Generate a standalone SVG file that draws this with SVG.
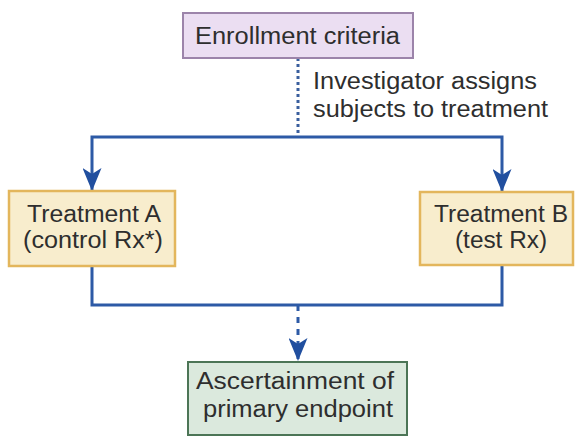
<svg xmlns="http://www.w3.org/2000/svg" width="581" height="438" viewBox="0 0 581 438">
  <style>
    .lbl { font-family: "Liberation Sans", Arial, sans-serif; font-size: 23.5px; fill: #2e2e2e; }
    .mid { text-anchor: middle; }
    .wire { fill: none; stroke: #2d5aa6; stroke-width: 3; }
    .dots { fill: none; stroke: #3a5f9e; stroke-width: 3; stroke-dasharray: 3 3; }
    .dash { fill: none; stroke: #2d5aa6; stroke-width: 3; stroke-dasharray: 6 6; }
    .purple { fill: #ebdef2; stroke: #9c84aa; stroke-width: 2; }
    .yellow { fill: #f8edcd; stroke: #e3b65c; stroke-width: 2.5; }
    .green { fill: #dbe9dd; stroke: #4c7556; stroke-width: 2; }
  </style>
  <defs>
    <marker id="arrow" markerUnits="userSpaceOnUse" viewBox="0 0 23 19" refX="23" refY="9.5" markerWidth="23" markerHeight="19" orient="auto">
      <path d="M0,0 L23,9.5 L0,19 L6,9.5 Z" fill="#214f9f"/>
    </marker>
  </defs>

  <rect width="581" height="438" fill="#ffffff"/>

  <!-- connectors -->
  <g id="connectors">
    <path class="dots" d="M298,58 V137"/>
    <path class="wire" d="M298,137 H92 V191" marker-end="url(#arrow)"/>
    <path class="wire" d="M298,137 H502 V192" marker-end="url(#arrow)"/>
    <path class="wire" d="M92,266 V305 H502 V265"/>
    <path class="dash" d="M298,305 V361" marker-end="url(#arrow)"/>
    <text class="lbl" x="313" y="89" textLength="224" lengthAdjust="spacingAndGlyphs">Investigator assigns</text>
    <text class="lbl" x="313" y="117" textLength="235" lengthAdjust="spacingAndGlyphs">subjects to treatment</text>
  </g>

  <!-- nodes -->
  <g id="enrollment">
    <rect class="purple" x="183" y="13" width="230" height="45"/>
    <text class="lbl" x="195" y="44" textLength="205" lengthAdjust="spacingAndGlyphs">Enrollment criteria</text>
  </g>

  <g id="treatment-a">
    <rect class="yellow" x="9" y="191" width="166" height="75"/>
    <text class="lbl mid" x="94" y="222" textLength="134" lengthAdjust="spacingAndGlyphs">Treatment A</text>
    <text class="lbl mid" x="93" y="248" textLength="140" lengthAdjust="spacingAndGlyphs">(control Rx*)</text>
  </g>

  <g id="treatment-b">
    <rect class="yellow" x="420" y="192" width="153" height="73"/>
    <text class="lbl mid" x="501" y="222" textLength="134" lengthAdjust="spacingAndGlyphs">Treatment B</text>
    <text class="lbl mid" x="501" y="248" textLength="92" lengthAdjust="spacingAndGlyphs">(test Rx)</text>
  </g>

  <g id="endpoint">
    <rect class="green" x="188" y="362" width="219" height="73"/>
    <text class="lbl mid" x="295" y="389" textLength="198" lengthAdjust="spacingAndGlyphs">Ascertainment of</text>
    <text class="lbl mid" x="298" y="417" textLength="190" lengthAdjust="spacingAndGlyphs">primary endpoint</text>
  </g>
</svg>
